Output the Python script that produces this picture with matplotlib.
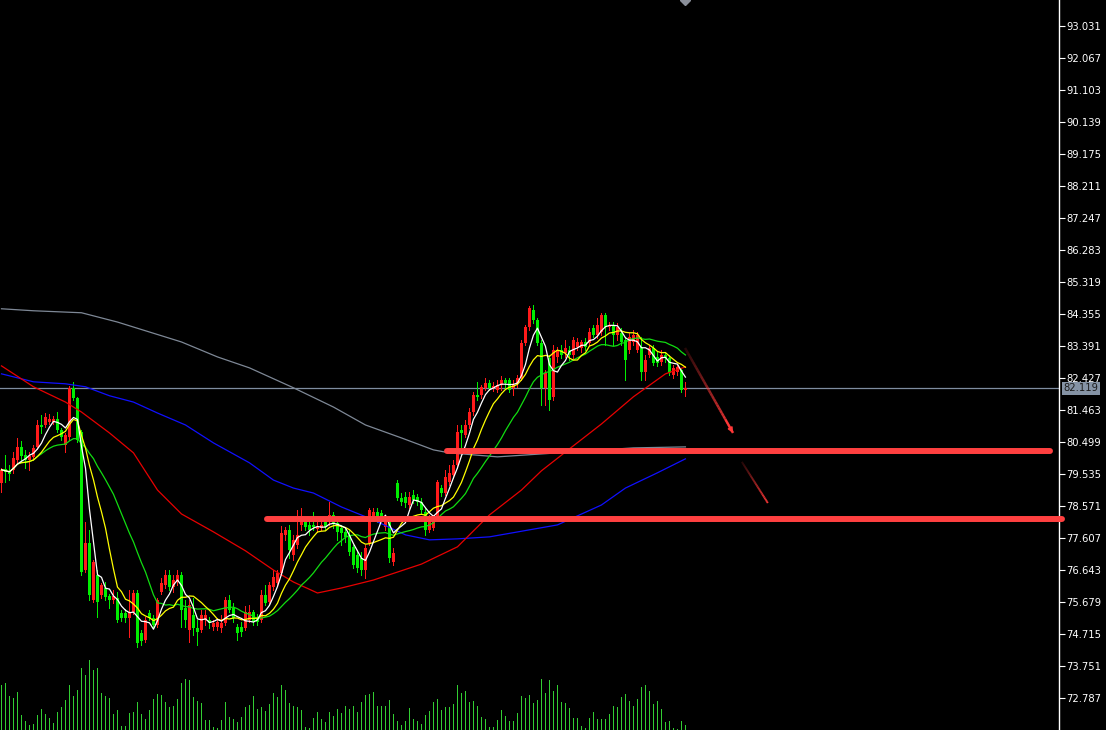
import numpy as np
import pandas as pd
import matplotlib
matplotlib.use('Agg')
import matplotlib.pyplot as plt
from matplotlib.collections import LineCollection
from matplotlib import transforms

# ---- candles, oldest -> newest (red = up, green = down) ----
opens = [79.27, 79.69, 79.60, 79.66, 79.96, 80.35, 80.11, 79.96, 80.05, 80.35,
         81.01, 81.01, 81.10, 81.10, 81.19, 80.86, 80.41, 80.65, 82.13, 81.83,
         80.80, 76.65, 77.46, 75.74, 76.49, 75.89, 76.10, 75.86, 75.74, 75.80,
         75.35, 75.35, 75.20, 75.38, 75.95, 74.75, 74.54, 75.35, 75.20, 74.99,
         75.98, 76.19, 76.49, 76.13, 76.28, 76.49, 75.50, 74.84, 75.29, 74.90,
         74.84, 75.14, 75.14, 74.93, 74.93, 74.90, 75.05, 75.74, 75.50, 74.93,
         74.93, 74.90, 75.14, 75.38, 75.23, 75.14, 75.89, 75.68, 76.13, 76.25,
         76.55, 77.70, 77.85, 77.10, 77.40, 78.00, 78.09, 78.00, 78.00, 77.88,
         77.91, 78.09, 78.09, 78.30, 78.06, 77.91, 77.79, 77.70, 77.34, 77.10,
         77.01, 76.65, 77.46, 78.21, 78.39, 78.36, 77.94, 78.15, 76.89, 79.27,
         78.81, 78.84, 78.60, 78.90, 78.84, 78.69, 78.39, 77.85, 77.91, 78.24,
         79.12, 78.96, 79.30, 79.51, 79.81, 80.86, 80.71, 81.01, 81.40, 81.92,
         81.92, 82.13, 82.28, 82.13, 82.07, 82.22, 82.37, 82.37, 82.13, 82.28,
         82.43, 83.48, 83.96, 84.48, 84.17, 83.48, 82.13, 83.03, 81.86, 83.06,
         83.27, 83.18, 83.27, 83.12, 83.36, 83.33, 83.51, 83.48, 83.93, 83.72,
         83.81, 84.33, 83.96, 84.02, 83.72, 83.78, 83.57, 83.27, 83.51, 83.27,
         83.36, 82.61, 83.12, 83.33, 83.06, 82.91, 83.12, 83.03, 82.52, 82.61,
         82.67, 82.07]
closes = [79.66, 79.60, 79.54, 80.02, 80.35, 80.08, 79.96, 80.08, 80.32, 81.01,
          80.95, 81.25, 81.19, 81.19, 80.86, 80.65, 80.71, 82.13, 81.83, 80.56,
          76.58, 77.46, 75.89, 76.89, 75.68, 76.19, 75.83, 75.74, 75.86, 75.14,
          75.20, 75.20, 75.38, 75.95, 74.45, 74.51, 75.14, 75.20, 74.99, 75.74,
          76.25, 76.49, 76.13, 76.34, 76.49, 75.44, 75.14, 75.59, 74.90, 74.78,
          75.29, 75.29, 75.05, 75.05, 75.08, 75.05, 75.74, 75.44, 75.20, 74.75,
          74.78, 75.38, 75.38, 75.08, 75.08, 75.89, 75.65, 76.19, 76.43, 76.55,
          77.76, 77.85, 77.25, 77.55, 77.70, 78.09, 77.94, 77.85, 77.94, 77.94,
          78.00, 77.94, 78.30, 78.06, 77.79, 77.76, 77.64, 77.19, 76.80, 76.70,
          76.65, 77.31, 78.45, 78.39, 78.24, 78.24, 78.15, 77.01, 77.16, 78.81,
          78.69, 78.66, 78.84, 78.75, 78.69, 78.45, 77.85, 78.09, 78.21, 79.30,
          78.96, 79.45, 79.57, 79.81, 80.80, 80.77, 81.01, 81.40, 81.92, 81.86,
          82.16, 82.28, 82.13, 82.19, 82.22, 82.37, 82.28, 82.07, 82.22, 82.43,
          83.48, 83.96, 84.54, 84.17, 83.48, 82.13, 82.58, 81.77, 83.27, 83.27,
          83.12, 83.33, 83.12, 83.57, 83.51, 83.51, 83.36, 83.81, 83.72, 84.02,
          84.33, 83.96, 84.02, 83.72, 83.96, 83.51, 82.97, 83.66, 83.72, 83.72,
          82.61, 82.97, 83.33, 82.88, 82.88, 83.12, 83.03, 82.58, 82.73, 82.76,
          82.07, 82.12]
highs = [79.72, 80.11, 79.81, 80.20, 80.62, 80.53, 80.26, 80.20, 80.41, 81.16,
         81.31, 81.37, 81.34, 81.28, 81.40, 80.92, 80.77, 82.19, 82.31, 81.86,
         80.86, 78.09, 77.85, 76.95, 76.65, 76.25, 76.28, 75.92, 76.04, 75.98,
         75.44, 75.47, 76.04, 76.04, 76.04, 74.84, 75.23, 75.44, 75.29, 75.80,
         76.40, 76.65, 76.65, 76.49, 76.65, 76.58, 75.74, 75.74, 75.80, 75.14,
         75.44, 75.44, 75.23, 75.14, 75.20, 75.29, 75.83, 75.89, 75.65, 75.02,
         75.08, 75.56, 75.59, 75.44, 75.32, 76.04, 76.19, 76.28, 76.65, 76.65,
         77.97, 77.94, 78.00, 77.70, 78.45, 78.51, 78.24, 78.15, 78.39, 78.09,
         78.15, 78.21, 78.69, 78.39, 78.21, 78.00, 77.94, 77.85, 77.40, 77.25,
         77.19, 77.40, 78.51, 78.51, 78.51, 78.45, 78.30, 78.24, 77.31, 79.36,
         78.96, 78.99, 78.99, 79.05, 78.93, 78.81, 78.51, 78.30, 78.30, 79.36,
         79.21, 79.66, 79.81, 79.96, 81.01, 81.01, 81.16, 81.52, 82.01, 82.31,
         82.22, 82.43, 82.37, 82.31, 82.37, 82.49, 82.43, 82.43, 82.37, 82.52,
         83.57, 84.02, 84.60, 84.63, 84.23, 83.57, 82.67, 83.12, 83.42, 83.36,
         83.42, 83.57, 83.39, 83.66, 83.63, 83.57, 83.63, 83.93, 84.02, 84.23,
         84.39, 84.39, 84.11, 84.11, 84.08, 83.93, 83.66, 83.78, 83.87, 83.81,
         83.66, 83.12, 83.42, 83.42, 83.21, 83.27, 83.21, 83.12, 82.82, 82.82,
         82.73, 82.31]
lows = [78.99, 79.30, 79.36, 79.57, 79.90, 79.96, 79.72, 79.66, 79.96, 80.29,
        80.77, 80.95, 81.04, 81.04, 80.80, 80.56, 80.20, 80.56, 81.77, 80.50,
        76.49, 76.58, 75.74, 75.68, 75.23, 75.80, 75.74, 75.50, 75.65, 75.08,
        75.11, 75.08, 74.63, 75.32, 74.33, 74.39, 74.48, 75.14, 74.90, 74.93,
        75.92, 76.10, 76.04, 75.98, 76.19, 74.93, 74.93, 74.48, 74.69, 74.39,
        74.78, 74.99, 74.90, 74.84, 74.84, 74.78, 74.99, 75.38, 75.08, 74.54,
        74.66, 74.84, 75.08, 74.99, 74.99, 75.08, 75.59, 75.59, 76.04, 76.19,
        76.49, 77.55, 77.01, 76.95, 77.31, 77.85, 77.85, 77.70, 77.85, 77.79,
        77.85, 77.85, 78.00, 77.91, 77.55, 77.40, 77.49, 77.10, 76.70, 76.58,
        76.49, 76.40, 77.40, 78.15, 78.09, 78.15, 77.85, 76.89, 76.80, 78.75,
        78.60, 78.54, 78.51, 78.66, 78.60, 78.33, 77.70, 77.79, 77.85, 78.15,
        78.87, 78.90, 79.21, 79.42, 79.72, 80.35, 80.65, 80.92, 81.31, 81.77,
        81.83, 82.07, 82.07, 82.04, 82.01, 82.07, 82.13, 82.01, 81.92, 82.16,
        82.37, 83.42, 83.87, 84.08, 83.42, 81.61, 81.61, 81.46, 81.77, 82.91,
        83.03, 83.06, 82.97, 83.03, 83.27, 83.21, 83.27, 83.42, 83.66, 83.63,
        83.72, 83.42, 83.87, 83.42, 83.57, 83.42, 82.37, 83.18, 83.42, 83.21,
        82.37, 82.37, 83.06, 82.82, 82.79, 82.82, 82.91, 82.52, 82.43, 82.52,
        82.01, 81.89]
volumes = [135, 140, 102, 95, 114, 45, 27, 15, 18, 45,
           63, 48, 36, 21, 54, 69, 90, 135, 102, 120,
           186, 165, 210, 180, 186, 111, 102, 96, 48, 60,
           12, 12, 51, 54, 84, 48, 33, 60, 93, 108,
           105, 84, 69, 72, 93, 141, 153, 150, 99, 87,
           81, 30, 30, 9, 6, 30, 84, 39, 33, 24,
           39, 69, 75, 102, 63, 69, 57, 78, 111, 99,
           135, 120, 81, 72, 69, 60, 9, 6, 36, 54,
           33, 24, 54, 42, 63, 51, 72, 63, 72, 54,
           84, 105, 108, 114, 72, 72, 72, 90, 48, 27,
           15, 27, 66, 33, 27, 18, 45, 57, 84, 93,
           60, 69, 69, 78, 135, 111, 117, 84, 87, 72,
           39, 33, 9, 9, 30, 60, 42, 27, 27, 51,
           102, 96, 105, 81, 90, 153, 111, 150, 117, 135,
           84, 81, 66, 36, 36, 12, 6, 36, 54, 33,
           33, 33, 48, 72, 69, 99, 108, 87, 72, 93,
           129, 135, 117, 78, 87, 63, 24, 27, 6, 3,
           27, 15]

# long moving averages (bar index, price)
ma60_idx = [0, 8, 16, 20, 27, 33, 39, 45, 53, 61, 68, 73, 79, 85, 93, 105,
            114, 122, 130, 135, 142, 150, 158, 166, 171]
ma60_val = [82.79, 82.16, 81.70, 81.40, 80.77, 80.17, 79.05, 78.33, 77.79, 77.22,
            76.64, 76.28, 75.95, 76.10, 76.34, 76.82, 77.34, 78.30, 79.05, 79.63,
            80.29, 81.04, 81.86, 82.55, 82.76]
ma120_idx = [0, 8, 16, 21, 27, 33, 39, 46, 53, 62, 68, 73, 78, 85, 93, 101,
             107, 114, 122, 139, 150, 156, 164, 171]
ma120_val = [82.55, 82.31, 82.25, 82.16, 81.89, 81.70, 81.37, 81.01, 80.47, 79.87,
             79.35, 79.11, 78.96, 78.54, 78.15, 77.70, 77.55, 77.58, 77.64, 78.00,
             78.60, 79.11, 79.57, 79.99]
ma250_idx = [0, 8, 20, 29, 37, 45, 54, 62, 73, 83, 91, 100, 108, 112, 124,
             139, 158, 171]
ma250_val = [84.51, 84.45, 84.39, 84.11, 83.81, 83.51, 83.06, 82.73, 82.13, 81.55,
             81.01, 80.62, 80.26, 80.17, 80.05, 80.17, 80.32, 80.35]

last_price = 82.119
level_hi, level_hi_from, level_hi_to = 80.23, 111.4, 262.1
level_lo, level_lo_from, level_lo_to = 78.18, 66.4, 265.1
arrow1 = [(170.9, 83.33), (182.9, 80.77)]
arrow2 = [(185.1, 79.90), (191.6, 78.66)]
tick_start, tick_step, n_ticks = 72.787, 0.964, 22

W, H = 1106, 730
ymin, ymax = 71.823, 93.81
xmin, xmax = -0.375, 264.4

fig = plt.figure(figsize=(W / 100, H / 100), dpi=100, facecolor='black')
ax = fig.add_axes([0, 0, 1059 / W, 1])
ax.set_facecolor('black')
vax = fig.add_axes([0, 0, 1059 / W, 80 / H])
vax.patch.set_alpha(0)

idx = np.arange(len(opens))
o = np.array(opens)
c = np.array(closes)
up = c >= o
col = np.where(up, '#ff1a1a', '#00ee00')

# volume (1 px wide bars)
vax.vlines(idx, 0, volumes, color='#32cd32', lw=0.7, antialiased=False)
vax.set_xlim(xmin, xmax)
vax.set_ylim(0, 240)
vax.axis('off')

# current price line
ax.axhline(last_price, color='#7f8da0', lw=0.9, zorder=1)

# candles
ax.vlines(idx, lows, highs, colors=col, lw=0.7, antialiased=False, zorder=2)
body_lo = np.minimum(o, c)
body_h = np.maximum(np.abs(c - o), 0.03)
ax.bar(idx, body_h, bottom=body_lo, width=0.75, color=col, linewidth=0, zorder=2)

# moving averages
s = pd.Series(closes)
ax.plot(ma250_idx, ma250_val, color='#7e8896', lw=0.9, zorder=3)
ax.plot(ma120_idx, ma120_val, color='#1010ff', lw=0.9, zorder=3)
ax.plot(ma60_idx, ma60_val, color='#e80000', lw=0.9, zorder=3)
ax.plot(idx, s.rolling(20, min_periods=1).mean(), color='#11dd11', lw=0.9, zorder=3)
ax.plot(idx, s.rolling(10, min_periods=1).mean(), color='#ffff00', lw=0.9, zorder=3)
ax.plot(idx, s.rolling(5, min_periods=1).mean(), color='white', lw=0.9, zorder=3)

# support levels
ax.plot([level_hi_from, level_hi_to], [level_hi, level_hi], color='#ff4040', lw=4.3,
        solid_capstyle='round', zorder=5)
ax.plot([level_lo_from, level_lo_to], [level_lo, level_lo], color='#ff4040', lw=4.3,
        solid_capstyle='round', zorder=5, clip_on=False)

# hand drawn arrows, fading in from the start
def fade_line(p0, p1, lw):
    n = 30
    xs = np.linspace(p0[0], p1[0], n + 1)
    ys = np.linspace(p0[1], p1[1], n + 1)
    segs = [[(xs[k], ys[k]), (xs[k + 1], ys[k + 1])] for k in range(n)]
    cols = [(1.0, 0.22, 0.22, 0.15 + 0.85 * k / n) for k in range(n)]
    ax.add_collection(LineCollection(segs, colors=cols, linewidths=lw, zorder=5))

fade_line(arrow1[0], arrow1[1], 1.8)
(ax0, ay0), (ax1, ay1) = arrow1
ax.annotate('', xy=(ax1, ay1),
            xytext=(ax1 - 0.15 * (ax1 - ax0), ay1 - 0.15 * (ay1 - ay0)),
            arrowprops=dict(arrowstyle='-|>', color='#ff3838', lw=1.2, mutation_scale=7,
                            shrinkA=0, shrinkB=0),
            zorder=6)
fade_line(arrow2[0], arrow2[1], 1.4)

# marker at top
ax.plot([171], [ymax], marker='D', color='#8a8f99', markersize=5, zorder=6)

ax.set_xlim(xmin, xmax)
ax.set_ylim(ymin, ymax)

ticks = [tick_start + tick_step * k for k in range(n_ticks)]
ax.set_yticks(ticks)
ax.set_yticklabels(['%.3f' % t for t in ticks])
ax.yaxis.tick_right()
ax.tick_params(axis='y', colors='white', length=4, width=0.8, labelsize=7.2, pad=1.5)
ax.set_xticks([])
for side in ['top', 'bottom', 'left']:
    ax.spines[side].set_visible(False)
ax.spines['right'].set_color('white')
ax.spines['right'].set_linewidth(1.0)

trans = transforms.blended_transform_factory(ax.transAxes, ax.transData)
ax.annotate('%.3f' % last_price, xy=(1.0, last_price), xycoords=trans,
            xytext=(3, 0), textcoords='offset points', va='center', ha='left',
            fontsize=7.2, color='#1c1c1c', annotation_clip=False,
            bbox=dict(boxstyle='square,pad=0.15', fc='#8593a5', ec='none'))

fig.savefig('out.png', dpi=100, facecolor='black')
